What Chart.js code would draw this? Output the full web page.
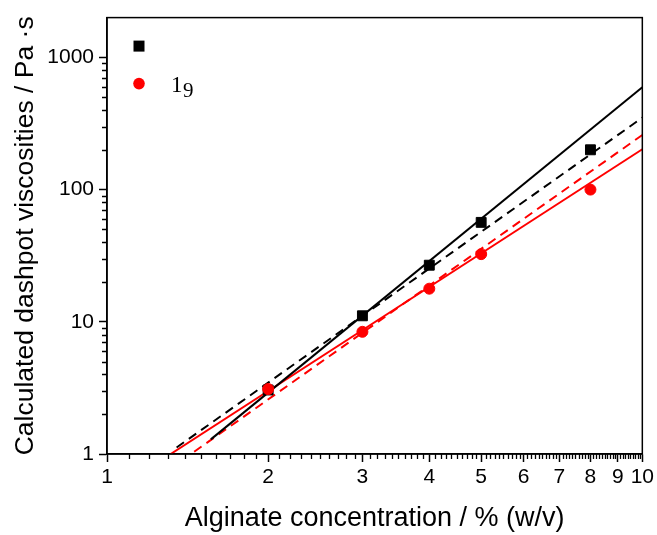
<!DOCTYPE html>
<html>
<head>
<meta charset="utf-8">
<script src="https://cdn.jsdelivr.net/npm/chart.js@4"></script>
<style>
  html, body { margin: 0; padding: 0; background: #fff; }
</style>
</head>
<body>
<canvas id="chart" width="657" height="535"></canvas>
<script>
// measured points (alginate % w/v -> dashpot viscosity Pa·s)
const concentrations = [2, 3, 4, 5, 8];
const blackValues = [3.05, 11.1, 26.8, 56.5, 200];
const redValues = [3.1, 8.4, 17.8, 32.5, 100];

// fit lines: start / end points
const blackSolidX = [1.563, 10];
const blackSolidY = [1.29, 594];
const blackDashX = [1.349, 10];
const blackDashY = [1.12, 350];
const redSolidX = [1.315, 10];
const redSolidY = [1.0, 202];
const redDashX = [1.455, 10];
const redDashY = [1.04, 259];

// axis ticks
const xTicks = [1, 2, 3, 4, 5, 6, 7, 8, 9, 10];
const yTicks = [1, 10, 100, 1000];

// legend text (second entry is "1" with subscript "9")
const legendMain = ['', '1'];
const legendSub = ['', '9'];

const pts = (xs, ys) => xs.map((v, i) => ({ x: v, y: ys[i] }));

const frame = {
    id: 'frame',
    afterDraw(chart) {
        const { ctx, chartArea: a, scales: { x, y } } = chart;
        ctx.save();
        ctx.strokeStyle = '#000';
        ctx.lineWidth = 1.5;
        ctx.strokeRect(a.left, a.top, a.right - a.left, a.bottom - a.top);
        // minor ticks
        ctx.lineWidth = 1.3;
        ctx.beginPath();
        for (let i = 11; i < 100; i++) {
            if (i % 10 === 0) continue;
            const px = Math.round(x.getPixelForValue(i / 10)) + 0.5;
            ctx.moveTo(px, a.bottom);
            ctx.lineTo(px, a.bottom + 5);
        }
        for (const d of [1, 10, 100]) {
            for (let k = 2; k <= 9; k++) {
                const py = Math.round(y.getPixelForValue(k * d)) + 0.5;
                ctx.moveTo(a.left, py);
                ctx.lineTo(a.left - 5, py);
            }
        }
        ctx.stroke();

        // legend
        const lx = a.left + 32;
        ctx.fillStyle = '#000';
        ctx.fillRect(lx - 5.5, a.top + 23, 11, 11);
        ctx.fillStyle = '#ff0000';
        ctx.beginPath();
        ctx.arc(lx, a.top + 66, 5.8, 0, Math.PI * 2);
        ctx.fill();
        ctx.fillStyle = '#000';
        ctx.textBaseline = 'alphabetic';
        ctx.font = '23px "Liberation Serif"';
        ctx.fillText(legendMain[1], a.left + 64, a.top + 74);
        ctx.font = '21px "Liberation Serif"';
        ctx.fillText(legendSub[1], a.left + 76, a.top + 79);
        ctx.restore();
    }
};

const axisFont = { family: 'Liberation Sans', size: 21 };

new Chart(document.getElementById('chart'), {
    type: 'scatter',
    data: {
        datasets: [
            { data: pts(concentrations, redValues), pointStyle: 'circle', pointRadius: 5.5, backgroundColor: '#ff0000', borderColor: '#ff0000', borderWidth: 1 },
            { data: pts(concentrations, blackValues), pointStyle: 'rect', pointRadius: 7, backgroundColor: '#000', borderColor: '#000', borderWidth: 1 },
            { data: pts(blackSolidX, blackSolidY), showLine: true, pointRadius: 0, borderColor: '#000', borderWidth: 2 },
            { data: pts(blackDashX, blackDashY), showLine: true, pointRadius: 0, borderColor: '#000', borderWidth: 2, borderDash: [9, 6] },
            { data: pts(redSolidX, redSolidY), showLine: true, pointRadius: 0, borderColor: '#ff0000', borderWidth: 2 },
            { data: pts(redDashX, redDashY), showLine: true, pointRadius: 0, borderColor: '#ff0000', borderWidth: 2, borderDash: [9, 6] }
        ]
    },
    options: {
        responsive: false,
        animation: false,
        layout: { padding: { left: 0, right: 14, top: 15, bottom: 0 } },
        plugins: { legend: { display: false }, tooltip: { enabled: false } },
        scales: {
            x: {
                type: 'logarithmic', min: 1, max: 10,
                afterBuildTicks: s => { s.ticks = xTicks.map(v => ({ value: v })); },
                afterFit: s => { s.height = 81; },
                ticks: { autoSkip: false, maxRotation: 0, color: '#000', font: axisFont, padding: 3, callback: v => String(v) },
                grid: { drawOnChartArea: false, tickLength: 8, tickColor: '#000', tickWidth: 1.5 },
                border: { color: '#000', width: 1.5 },
                title: { display: true, text: 'Alginate concentration / % (w/v)', color: '#000', font: { family: 'Liberation Sans', size: 27 }, padding: { top: 0, bottom: 0 } }
            },
            y: {
                type: 'logarithmic', min: 1, max: 2000,
                afterBuildTicks: s => { s.ticks = yTicks.map(v => ({ value: v })); },
                afterFit: s => { s.width = 107; },
                ticks: { autoSkip: false, color: '#000', font: axisFont, padding: 5, callback: v => String(v) },
                grid: { drawOnChartArea: false, tickLength: 8, tickColor: '#000', tickWidth: 1.5 },
                border: { color: '#000', width: 1.5 },
                title: { display: true, text: 'Calculated dashpot viscosities / Pa ·s', color: '#000', font: { family: 'Liberation Sans', size: 26.5 }, padding: { top: 10, bottom: 0 } }
            }
        }
    },
    plugins: [frame]
});
</script>
</body>
</html>
